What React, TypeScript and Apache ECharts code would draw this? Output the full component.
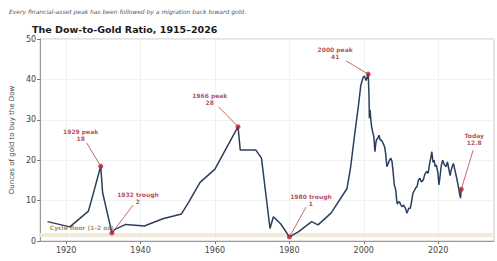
import React, { useEffect, useRef } from "react";
import * as echarts from "echarts";

const years = [1915, 1921, 1926, 1929.3, 1929.8, 1932.3, 1933, 1936, 1941, 1946, 1951, 1953, 1956, 1960, 1966.2, 1966.8, 1971, 1972.5, 1974.8, 1975.7, 1977.7, 1980, 1982.5, 1986, 1987.7, 1991.2, 1995.5, 1996.5, 1997.5, 1998.5, 1999.2, 1999.8, 2000.2, 2000.6, 2001.2, 2001.4, 2001.5, 2001.7, 2001.9, 2002.1, 2002.4, 2002.7, 2003.0, 2003.2, 2003.4, 2003.8, 2004.1, 2004.4, 2004.7, 2005.1, 2005.6, 2005.9, 2006.2, 2006.5, 2006.9, 2007.3, 2007.6, 2007.9, 2008.2, 2008.6, 2008.8, 2009.0, 2009.3, 2009.6, 2009.9, 2010.3, 2010.7, 2011.2, 2011.6, 2011.9, 2012.1, 2012.5, 2012.8, 2013.2, 2013.6, 2014.0, 2014.3, 2014.7, 2015.1, 2015.5, 2016.0, 2016.4, 2016.9, 2017.3, 2017.7, 2018.0, 2018.3, 2018.6, 2018.9, 2019.2, 2019.5, 2019.9, 2020.2, 2020.5, 2020.8, 2021.2, 2021.6, 2022.1, 2022.5, 2022.9, 2023.2, 2023.4, 2023.8, 2024.1, 2024.5, 2024.9, 2025.2, 2025.5, 2025.8, 2026.0, 2026.2];
const ratio = [4.8, 3.5, 7.4, 18.5, 12.0, 2.0, 2.8, 4.1, 3.7, 5.5, 6.7, 9.7, 14.5, 17.8, 28.3, 22.5, 22.5, 20.5, 3.1, 6.0, 4.2, 1.0, 2.3, 4.8, 4.0, 6.9, 13.0, 18.5, 26.0, 33.0, 38.5, 40.5, 40.8, 39.7, 41.3, 36.0, 30.4, 32.5, 30.0, 28.3, 27.0, 25.8, 22.1, 24.0, 25.0, 25.5, 26.2, 25.0, 25.0, 24.4, 23.3, 21.5, 18.4, 19.0, 20.0, 20.5, 19.6, 17.0, 13.9, 12.6, 10.5, 9.1, 9.6, 9.7, 9.0, 8.5, 8.9, 8.1, 6.9, 7.6, 8.1, 8.1, 9.5, 11.8, 12.5, 13.2, 13.4, 15.1, 15.5, 14.6, 15.1, 16.5, 17.2, 16.8, 19.2, 20.5, 22.1, 19.5, 20.0, 18.4, 18.8, 17.0, 13.9, 16.0, 18.5, 20.0, 19.0, 18.4, 19.6, 17.6, 16.2, 17.2, 18.5, 19.2, 17.5, 15.9, 14.5, 13.0, 11.5, 10.6, 12.8];

const xTicks = [1920, 1940, 1960, 1980, 2000, 2020];

const annLabels = ["1929 peak\n18", "1932 trough\n2", "1966 peak\n28", "1980 trough\n1", "2000 peak\n41", "Today\n12.8"];
const annPointX = [1929.3, 1932.3, 1966.2, 1980, 2001.2, 2026.2];
const annPointY = [18.5, 2, 28.3, 1, 41.3, 12.8];
const annTextX = [1923.9, 1939.3, 1958.6, 1985.8, 1992.3, 2029.7];
const annTextY = [26.2, 10.6, 35.1, 10.1, 46.5, 25.2];
const annArrowX = [1925.5, 1938, 1961, 1984.5, 1995.2, 2029.4];
const annArrowY = [24.3, 8.9, 33.2, 8.4, 44.6, 22.5];

const floorLow = 1;
const floorHigh = 2;
const floorLabel = "Cycle floor (1-2 oz)";

const FONT = "DejaVu Sans";

export default function App() {
  const ref = useRef<HTMLDivElement>(null);
  useEffect(() => {
    document.body.style.margin = "0";
    if (!ref.current) return;
    const chart = echarts.init(ref.current, null, { renderer: "svg" });
    const lineData = years.map((y, i) => [y, ratio[i]]);
    const option: any = {
      animation: false,
      backgroundColor: "#ffffff",
      textStyle: { fontFamily: FONT },
      title: [
        {
          text: "Every financial-asset peak has been followed by a migration back toward gold.",
          left: 4,
          top: 3,
          textStyle: { fontSize: 6, fontStyle: "italic", fontWeight: "normal", color: "#555", fontFamily: FONT },
        },
        {
          text: "The Dow-to-Gold Ratio, 1915–2026",
          left: 27,
          top: 19,
          textStyle: { fontSize: 9.5, fontWeight: "bold", color: "#1a1a1a", fontFamily: FONT },
        },
      ],
      grid: {
        left: 26,
        right: 3,
        top: 39,
        bottom: 20,
        show: true,
        borderColor: "#c8c8c8",
        borderWidth: 1,
        backgroundColor: "transparent",
      },
      xAxis: {
        type: "value",
        min: 1913,
        max: 2035,
        axisLine: { show: true, onZero: false, lineStyle: { color: "#999" } },
        axisTick: { show: true, customValues: xTicks, length: 3, lineStyle: { color: "#777" } },
        axisLabel: {
          customValues: xTicks,
          fontSize: 8,
          color: "#444",
          margin: 5,
          fontFamily: FONT,
          formatter: (v: number) => String(v),
        },
        splitLine: { show: true, customValues: xTicks, lineStyle: { color: "#eeeeee", width: 0.8 } },
      },
      yAxis: {
        type: "value",
        min: 0,
        max: 50,
        interval: 10,
        name: "Ounces of gold to buy the Dow",
        nameLocation: "middle",
        nameGap: 14,
        nameTextStyle: { fontSize: 7, color: "#444", fontFamily: FONT },
        axisLine: { show: true, lineStyle: { color: "#999" } },
        axisTick: { show: true, length: 3, lineStyle: { color: "#777" } },
        axisLabel: { fontSize: 8, color: "#444", margin: 4, fontFamily: FONT },
        splitLine: { show: true, lineStyle: { color: "#eeeeee", width: 0.8 } },
      },
      series: [
        {
          type: "scatter",
          data: [[1915.6, 3.3]],
          symbolSize: 0,
          silent: true,
          z: 1,
          label: {
            show: true,
            position: "right",
            distance: 0,
            formatter: floorLabel,
            fontSize: 6,
            fontWeight: "bold",
            color: "#8a7433",
            fontFamily: FONT,
          },
        },
        {
          type: "line",
          data: lineData,
          showSymbol: false,
          z: 3,
          lineStyle: { color: "#2b3f5c", width: 1.5 },
          markArea: {
            silent: true,
            itemStyle: { color: "#f2ead8" },
            data: [[{ yAxis: floorLow }, { yAxis: floorHigh }]],
          },
          markLine: {
            silent: true,
            symbol: ["none", "none"],
            label: { show: false },
            lineStyle: { color: "#b0454f", width: 0.8, type: "solid" },
            data: annPointX.map((x, i) => [
              { coord: [annArrowX[i], annArrowY[i]] },
              { coord: [x, annPointY[i]] },
            ]),
          },
        },
        {
          type: "scatter",
          data: annPointX.map((x, i) => [x, annPointY[i]]),
          symbolSize: 5,
          z: 4,
          itemStyle: { color: "#b01f2e" },
        },
        {
          type: "scatter",
          data: annTextX.map((x, i) => ({ value: [x, annTextY[i]], name: annLabels[i] })),
          symbolSize: 0,
          silent: true,
          z: 5,
          label: {
            show: true,
            position: "inside",
            formatter: (p: any) => p.name,
            fontSize: 6,
            lineHeight: 6.5,
            fontWeight: "bold",
            color: "#9b2335",
            align: "center",
            fontFamily: FONT,
          },
        },
      ],
    };
    chart.setOption(option);
    return () => chart.dispose();
  }, []);
  return <div ref={ref} style={{ width: 497, height: 261 }} />;
}
